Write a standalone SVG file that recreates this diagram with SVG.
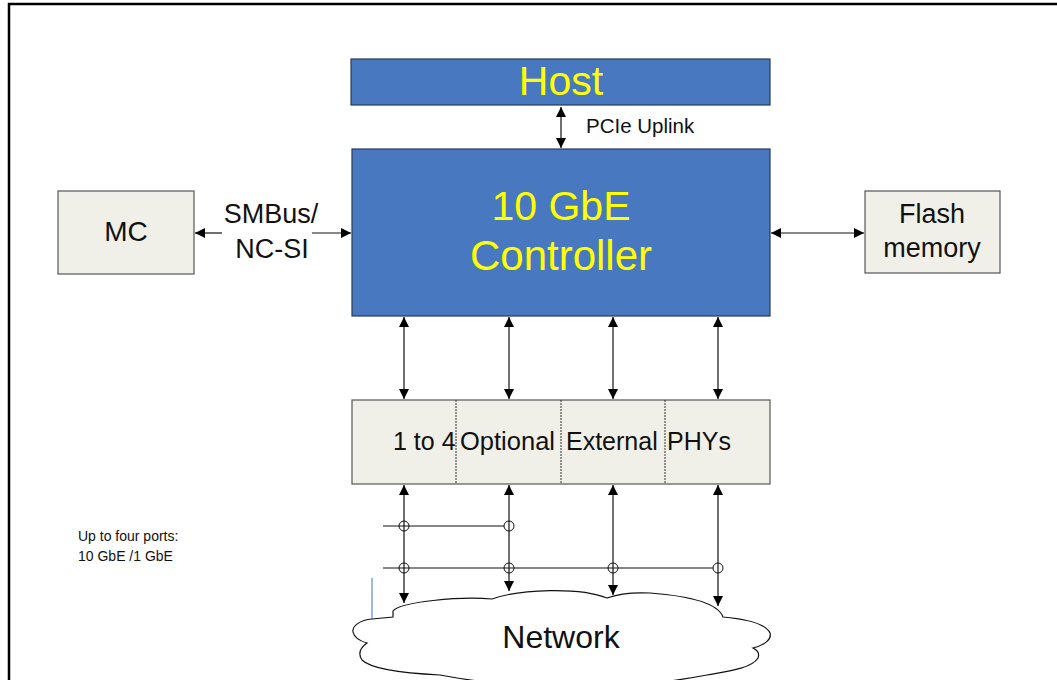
<svg xmlns="http://www.w3.org/2000/svg" width="1057" height="680" viewBox="0 0 1057 680">
<style>
text{font-family:"Liberation Sans",Arial,sans-serif;fill:#111}
.blue{fill:#4878C0;stroke:#2b3a55;stroke-width:1.2}
.beige{fill:#F0F0E8;stroke:#555;stroke-width:1.2}
.yl{fill:#FFFF00}
.ln{stroke:#111;stroke-width:1.2;fill:none}
.ar{marker-end:url(#ah)}
.ar2{marker-start:url(#ah);marker-end:url(#ah)}
.ring{fill:none;stroke:#111;stroke-width:1}
</style>
<defs>
<marker id="ah" markerUnits="userSpaceOnUse" markerWidth="10" markerHeight="10" refX="10" refY="5" orient="auto-start-reverse">
<path d="M0,0 L10,5 L0,10 z" fill="#000"/>
</marker>
</defs>
<rect width="1057" height="680" fill="#fff"/>
<g id="frame">
<line x1="8" y1="4" x2="1057" y2="4" stroke="#000" stroke-width="2.5"/>
<line x1="9" y1="3" x2="9" y2="680" stroke="#000" stroke-width="2.5"/>
</g>
<g id="host">
<rect class="blue" x="351" y="59" width="419" height="46"/>
<text class="yl" x="561" y="95" font-size="41" text-anchor="middle">Host</text>
</g>
<g id="controller">
<rect class="blue" x="352" y="149" width="418" height="167"/>
<text class="yl" x="561" y="220" font-size="41" text-anchor="middle">10 GbE</text>
<text class="yl" x="561" y="270" font-size="42" text-anchor="middle">Controller</text>
</g>
<g id="mc">
<rect class="beige" x="58" y="191" width="136" height="83"/>
<text x="126" y="241" font-size="28" text-anchor="middle">MC</text>
</g>
<g id="flash">
<rect class="beige" x="865" y="191" width="135" height="82"/>
<text x="932" y="223" font-size="27" text-anchor="middle">Flash</text>
<text x="932" y="257" font-size="27" text-anchor="middle">memory</text>
</g>
<g id="phys">
<rect class="beige" x="352" y="400" width="418" height="84"/>
<line x1="456" y1="400" x2="456" y2="484" stroke="#333" stroke-width="1" stroke-dasharray="2,1"/>
<line x1="561" y1="400" x2="561" y2="484" stroke="#333" stroke-width="1" stroke-dasharray="2,1"/>
<line x1="665" y1="400" x2="665" y2="484" stroke="#333" stroke-width="1" stroke-dasharray="2,1"/>
<text x="393" y="450" font-size="25">1 to 4</text>
<text x="460" y="450" font-size="25.5">Optional</text>
<text x="566" y="450" font-size="25">External</text>
<text x="667" y="450" font-size="25">PHYs</text>
</g>
<g id="network">
<path class="ln" d="M372,619 C360,620 352,626 353,632 C354,637 360,641 367,643 C360,648 358,654 362,660 C370,668 400,673 440,675 Q575,700 707,675 C730,671 752,668 758,658 C760,653 757,650 753,648 C765,645 772,639 770,633 C766,624 745,619 723,617 C718,603 690,596 650,593 C630,592 615,595 607,598 C580,587 520,589 492,599 C460,596 400,602 393,611 L393,617 Z"/>
<text x="561" y="648" font-size="32" text-anchor="middle">Network</text>
</g>
<g id="labels">
<text x="586" y="133" font-size="20.5">PCIe Uplink</text>
<text x="271" y="223" font-size="27" text-anchor="middle">SMBus/</text>
<text x="272" y="258" font-size="27" text-anchor="middle">NC-SI</text>
<text x="78" y="541" font-size="14">Up to four ports:</text>
<text x="78" y="561" font-size="14">10 GbE /1 GbE</text>
</g>
<g id="connectors">
<line class="ln ar2" x1="561" y1="107" x2="561" y2="148"/>
<line class="ln ar" x1="222" y1="233" x2="195" y2="233"/>
<line class="ln ar" x1="312" y1="233" x2="351" y2="233"/>
<line class="ln ar2" x1="771" y1="233" x2="864" y2="233"/>
<line class="ln ar2" x1="404" y1="317" x2="404" y2="399"/>
<line class="ln ar2" x1="509" y1="317" x2="509" y2="399"/>
<line class="ln ar2" x1="613" y1="317" x2="613" y2="399"/>
<line class="ln ar2" x1="718" y1="317" x2="718" y2="399"/>
<line class="ln ar2" x1="404" y1="485" x2="404" y2="603"/>
<line class="ln ar2" x1="509" y1="485" x2="509" y2="591"/>
<line class="ln ar2" x1="613" y1="485" x2="613" y2="595"/>
<line class="ln ar2" x1="718" y1="485" x2="718" y2="606"/>
<line class="ln" x1="383" y1="526" x2="504" y2="526"/>
<line class="ln" x1="383" y1="568" x2="713" y2="568"/>
<circle class="ring" cx="404" cy="526" r="5"/>
<circle class="ring" cx="509" cy="526" r="5"/>
<circle class="ring" cx="404" cy="568" r="5"/>
<circle class="ring" cx="509" cy="568" r="5"/>
<circle class="ring" cx="613" cy="568" r="5"/>
<circle class="ring" cx="718" cy="568" r="5"/>
<line x1="372" y1="578" x2="372" y2="619" stroke="#4472C4" stroke-width="1"/>
</g>
</svg>
